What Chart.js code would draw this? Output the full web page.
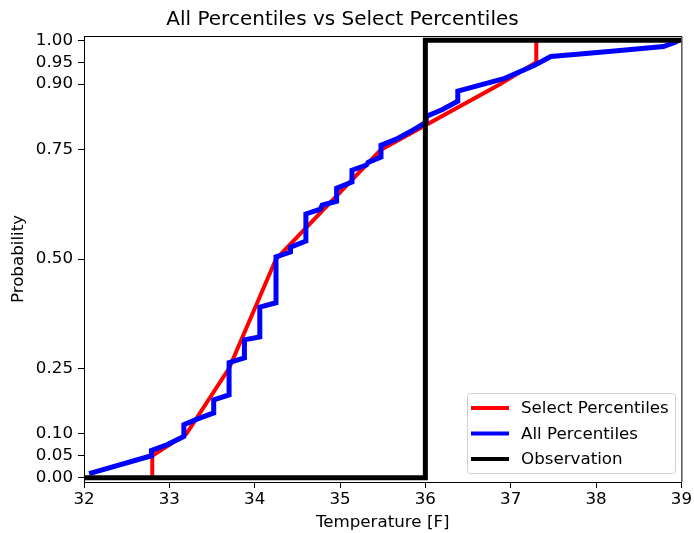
<!DOCTYPE html>
<html>
<head>
<meta charset="utf-8">
<script src="https://cdn.jsdelivr.net/npm/chart.js@4.4.0/dist/chart.umd.min.js"></script>
<style>
    html, body { margin: 0; padding: 0; background: #fff; }
</style>
</head>
<body>
<canvas id="cdf" width="694" height="533"></canvas>
<script>
// select percentiles (red)
const selectTemps = [32.8, 32.8, 33.2, 33.7, 34.25, 35.48, 36.88, 37.3, 37.3];
const selectProbs = [0.0, 0.05, 0.10, 0.25, 0.50, 0.75, 0.90, 0.95, 1.0];

// all percentiles (blue)
const allTemps = [32.06, 32.79, 32.79, 32.97, 33.17, 33.17, 33.34, 33.52, 33.52, 33.70,
    33.70, 33.88, 33.88, 34.06, 34.06, 34.25, 34.25, 34.42, 34.42, 34.60,
    34.60, 34.77, 34.79, 34.96, 34.96, 35.14, 35.14, 35.31, 35.33, 35.48,
    35.48, 35.66, 35.83, 36.01, 36.01, 36.20, 36.38, 36.38, 36.93, 37.28,
    37.47, 37.78, 38.28, 38.79, 38.92, 38.97];
const allProbs = [0.009, 0.050, 0.062, 0.075, 0.094, 0.121, 0.135, 0.148, 0.178, 0.189,
    0.263, 0.274, 0.315, 0.322, 0.390, 0.400, 0.505, 0.516, 0.527, 0.541,
    0.603, 0.614, 0.623, 0.632, 0.662, 0.676, 0.703, 0.715, 0.721, 0.733,
    0.760, 0.774, 0.792, 0.813, 0.826, 0.842, 0.861, 0.884, 0.913, 0.943,
    0.963, 0.968, 0.977, 0.986, 0.995, 1.0];

// observed value as a step cdf (black)
const obsTemps = [32, 36, 36, 39];
const obsProbs = [0, 0, 1, 1];

const xTicks = [32, 33, 34, 35, 36, 37, 38, 39];
const yTicks = [0.0, 0.05, 0.10, 0.25, 0.50, 0.75, 0.90, 0.95, 1.0];

const toPoints = (xs, ys) => xs.map((x, i) => ({ x: x, y: ys[i] }));

const FONT = "'DejaVu Sans', sans-serif";
const TXT = 16.7;

// legend box in the lower right, plus the top/right spines
const frame = {
    id: "frame",
    afterDatasetsDraw(chart) {
        const { ctx, chartArea: a } = chart;
        ctx.save();
        ctx.strokeStyle = "#000";
        ctx.lineWidth = 1;
        ctx.beginPath();
        ctx.moveTo(a.left, a.top + 0.5);
        ctx.lineTo(a.right + 0.5, a.top + 0.5);
        ctx.lineTo(a.right + 0.5, a.bottom);
        ctx.stroke();
        ctx.restore();
    },
    afterDraw(chart) {
        const { ctx } = chart;
        const sets = chart.data.datasets;
        const bx = 467, by = 393, bw = 208, bh = 80, r = 3;
        ctx.save();
        ctx.fillStyle = "rgba(255,255,255,0.8)";
        ctx.strokeStyle = "#d0d0d0";
        ctx.lineWidth = 1;
        ctx.beginPath();
        ctx.roundRect(bx + 0.5, by + 0.5, bw, bh, r);
        ctx.fill();
        ctx.stroke();
        ctx.font = TXT + "px " + FONT;
        ctx.textBaseline = "middle";
        ctx.fillStyle = "#000";
        sets.forEach((ds, i) => {
            const y = by + 15 + i * 25.5;
            ctx.strokeStyle = ds.borderColor;
            ctx.lineWidth = 4;
            ctx.beginPath();
            ctx.moveTo(bx + 4, y);
            ctx.lineTo(bx + 42, y);
            ctx.stroke();
            ctx.fillText(ds.label, bx + 54, y + 1);
        });
        ctx.restore();
    }
};

new Chart(document.getElementById("cdf"), {
    type: "line",
    data: {
        datasets: [
            {
                label: "Select Percentiles",
                data: toPoints(selectTemps, selectProbs),
                borderColor: "#ff0000",
                borderWidth: 4,
                pointRadius: 0,
                tension: 0,
                order: 3
            },
            {
                label: "All Percentiles",
                data: toPoints(allTemps, allProbs),
                borderColor: "#0000ff",
                borderWidth: 5,
                pointRadius: 0,
                tension: 0,
                order: 2
            },
            {
                label: "Observation",
                data: toPoints(obsTemps, obsProbs),
                borderColor: "#000000",
                borderWidth: 5,
                pointRadius: 0,
                tension: 0,
                order: 1
            }
        ]
    },
    options: {
        responsive: false,
        animation: false,
        layout: { padding: { left: 0, right: 9, top: 0, bottom: 0 } },
        plugins: {
            legend: { display: false },
            tooltip: { enabled: false },
            title: {
                display: true,
                text: "All Percentiles vs Select Percentiles",
                color: "#000",
                font: { family: FONT, size: 20, weight: "normal" },
                padding: { top: 8, bottom: 4 }
            }
        },
        scales: {
            x: {
                type: "linear",
                min: 32,
                max: 39,
                afterBuildTicks: (s) => { s.ticks = xTicks.map(v => ({ value: v })); },
                afterFit: (s) => { s.height = 51; },
                grid: { drawOnChartArea: false, drawTicks: true, tickLength: 6, color: "#000" },
                border: { color: "#000", width: 1 },
                ticks: {
                    color: "#000",
                    padding: 2,
                    font: { family: FONT, size: TXT },
                    callback: (v) => String(v)
                },
                title: {
                    display: true,
                    text: "Temperature [F]",
                    color: "#000",
                    font: { family: FONT, size: TXT },
                    padding: { top: 0, bottom: 0 }
                }
            },
            y: {
                type: "linear",
                min: -0.01,
                max: 1.01,
                afterBuildTicks: (s) => { s.ticks = yTicks.map(v => ({ value: v })); },
                afterFit: (s) => { s.width = 84; },
                grid: { drawOnChartArea: false, drawTicks: true, tickLength: 6, color: "#000" },
                border: { color: "#000", width: 1 },
                ticks: {
                    color: "#000",
                    padding: 5,
                    autoSkip: false,
                    font: { family: FONT, size: TXT },
                    callback: (v) => Number(v).toFixed(2)
                },
                title: {
                    display: true,
                    text: "Probability",
                    color: "#000",
                    font: { family: FONT, size: TXT },
                    padding: { top: 9, bottom: 4 }
                }
            }
        }
    },
    plugins: [frame]
});
</script>
</body>
</html>
